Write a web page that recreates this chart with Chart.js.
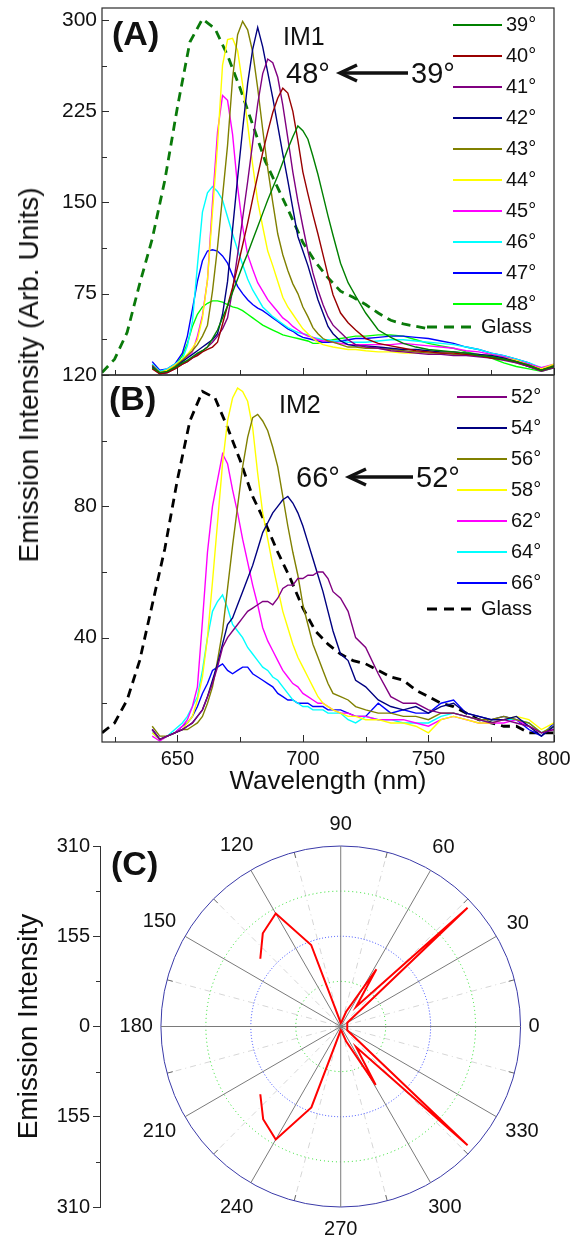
<!DOCTYPE html>
<html>
<head>
<meta charset="utf-8">
<script src="https://cdn.jsdelivr.net/npm/chart.js@4.4.0/dist/chart.umd.min.js"></script>
<style>
  html, body { margin: 0; padding: 0; background: #fff; }
  #page { position: relative; width: 574px; height: 1236px; overflow: hidden; font-family: Arial, "Liberation Sans", sans-serif; }
  #page canvas { position: absolute; left: 0; }
  #ytitle { position: absolute; left: 29px; top: 375px; transform: translate(-50%, -50%) rotate(-90deg);
            font-size: 28px; white-space: nowrap; color: #111; }
</style>
</head>
<body>
<div id="page">
  <canvas id="chart-a" width="574" height="376" style="top:0"></canvas>
  <canvas id="chart-b" width="574" height="440" style="top:360px"></canvas>
  <canvas id="chart-c" width="574" height="436" style="top:800px"></canvas>
  <div id="ytitle">Emission Intensity (Arb. Units)</div>
</div>
<script>
const FONT = 'Arial, "Liberation Sans", sans-serif';

// wavelength grid of the angle spectra (nm)
const lam = [640, 643, 646, 649, 652, 654, 656, 658, 660, 662, 664, 666, 668, 670, 672, 674, 676, 678,
  680, 682, 684, 686, 688, 690, 692, 694, 696, 698, 700, 702, 704, 706, 708, 710, 712, 715, 718, 721,
  725, 730, 735, 740, 745, 750, 755, 760, 765, 770, 775, 780, 785, 790, 795, 800];
// wavelength grid of the glass reference (nm)
const glassLam = [620, 625, 630, 635, 640, 645, 650, 655, 660, 665, 670, 675, 680, 685, 690, 695, 700,
  705, 710, 715, 720, 725, 730, 735, 740, 745, 750, 755, 760, 765, 770, 775, 780, 785, 790, 795, 800];

// (A) IM1
const a39 = [14,10,11,14,18,20,23,26,28,31,38,45,55,65,76,87,98,108,119,130,141,152,162,172,183,194,204,213,209,202,188,173,156,139,123,100,84,73,59,45,39,34,31,29,28,27,26,24,23,21,19,16,12,15];
const a40 = [13,9,10,13,17,19,22,24,27,29,31,35,50,65,80,97,115,133,153,172,191,208,224,236,244,240,225,201,175,157,140,124,107,90,74,59,51,45,38,34,32,30,28,27,26,26,25,24,22,21,19,16,12,15];
const a41 = [14,9,10,13,17,19,22,25,28,31,35,40,46,55,78,107,137,167,199,231,256,268,265,253,230,203,175,151,130,110,92,78,66,56,49,43,37,33,31,30,28,27,26,25,25,24,24,23,22,20,18,15,11,14];
const a42 = [15,9,10,14,19,22,25,28,31,34,37,42,58,85,128,170,210,248,276,294,278,257,236,213,190,168,145,122,110,98,84,70,59,48,42,36,33,32,32,31,30,29,29,28,27,27,26,25,24,22,19,15,12,15];
const a43 = [16,10,11,15,20,24,28,33,40,49,77,113,155,197,252,288,299,292,274,244,210,178,150,124,107,94,83,75,64,56,47,42,38,36,35,33,31,31,30,30,29,28,27,26,26,25,25,24,23,21,18,15,12,16];
const a44 = [15,10,12,16,21,25,30,37,55,86,142,197,263,284,285,275,247,214,181,151,130,110,98,85,72,64,58,52,46,42,38,35,33,32,31,30,29,29,28,27,27,26,26,27,26,26,25,25,24,22,20,16,13,17];
const a45 = [16,10,12,16,20,23,27,40,57,86,150,208,238,234,206,163,130,107,95,84,77,70,65,60,55,52,48,45,42,40,39,37,36,36,35,34,33,33,33,33,33,34,33,32,31,30,28,27,25,23,20,17,14,17];
const a46 = [17,11,13,17,21,32,52,98,142,158,163,159,152,138,124,111,99,87,78,71,64,60,56,53,50,47,45,43,42,41,39,38,37,37,36,36,35,35,35,36,37,37,36,35,34,33,31,29,26,24,21,18,14,16];
const a47 = [19,12,13,17,26,40,62,85,102,110,111,110,106,100,90,81,75,70,66,63,61,58,55,52,49,46,44,41,39,38,37,36,35,35,35,36,37,38,38,39,40,40,39,38,36,34,31,29,26,24,21,18,13,16];
const a48 = [16,11,12,15,24,34,48,58,64,67,69,69,68,66,64,63,61,58,55,52,49,47,45,43,41,40,39,38,37,36,34,34,35,36,37,38,39,40,40,41,41,40,37,34,32,30,27,25,22,18,15,13,11,14];
const aGlass = [10,21,43,83,120,168,228,282,301,293,271,244,214,184,162,140,117,101,88,77,72,66,59,53,50,48,46];

// (B) IM2
const b52 = [12,9,10,11,12,13,14,16,18,22,26,31,37,40,42,44,46,48,49,50,51,51,50,52,55,56,56,58,58,59,59,60,60,58,54,52,48,40,37,29,22,20,20,18,17,17,16,15,14,15,14,13,11,12];
const b54 = [12,9,10,11,12,13,14,16,18,22,27,32,38,44,46,50,54,58,62,67,72,75,78,80,82,83,81,78,74,69,64,59,54,48,42,35,33,27,25,21,19,18,19,17,19,20,17,16,15,15,16,13,10,13];
const b56 = [13,10,10,11,12,12,13,14,16,20,25,33,42,55,68,80,92,101,107,108,106,103,98,92,83,74,66,59,50,44,38,34,30,26,23,22,21,19,18,17,17,16,16,15,17,17,16,15,15,16,15,14,11,13];
const b58 = [11,9,10,11,12,14,16,21,28,40,57,75,93,106,113,116,115,112,104,90,78,70,62,55,48,43,38,34,31,28,25,22,20,19,18,17,16,16,15,15,14,14,13,11,15,16,15,14,14,15,16,15,12,14];
const b62 = [10,8.5,10,11,13,15,19,25,45,66,80,88,96,93,85,78,70,63,56,50,43,39,36,33,30,28,26,25,23,22,21,20,20,19,18,17,17,16,16,15,15,15,14,13,15,16,15,14,14,14,15,13,11,12];
const b64 = [11,9,10,12,14,16,19,22,30,40,48,51,53,49,44,42,40,37,35,33,31,30,28,27,25,23,21,20,19,19,18,18,18,17,17,17,15,14,16,15,15,14,14,14,16,17,16,15,14,15,15,14,11,13];
const b66 = [12,9,10,11,13,14,16,19,23,26,30,31,32,30,29,30,31,31,29,28,27,26,25,23,22,21,21,20,20,20,19,19,19,18,18,18,17,16,16,20,17,18,17,17,20,21,17,16,15,16,15,12,10,14];
const bGlass = [11,14,21,33,50,67,88,106,115,113,104,94,83,75,66,58,49,42,38,35,33,32,30,28,27,24,22,20,19,17,15,14,13,13,11,11,11];

const anglesA = ['39°', '40°', '41°', '42°', '43°', '44°', '45°', '46°', '47°', '48°'];
const seriesA = [a39, a40, a41, a42, a43, a44, a45, a46, a47, a48];
const colorsA = ['#008000', '#990000', '#800080', '#000080', '#808000', '#ffff00', '#ff00ff', '#00ffff', '#0000ff', '#00ff00'];

const anglesB = ['52°', '54°', '56°', '58°', '62°', '64°', '66°'];
const seriesB = [b52, b54, b56, b58, b62, b64, b66];
const colorsB = ['#800080', '#000080', '#808000', '#ffff00', '#ff00ff', '#00ffff', '#0000ff'];

// axis ticks
const xTicks = [650, 700, 750, 800];
const xMinor = [625, 675, 725, 775];
const yTicksA = [75, 150, 225, 300];
const yMinorA = [37.5, 112.5, 187.5, 262.5];
const yTicksB = [40, 80, 120];
const yMinorB = [20, 60, 100];

// (C) polar plot: angle (deg) and emission intensity
const polarDeg = [140, 130, 120, 110, 100, 90, 80, 70, 58, 52, 43, 30, 20, 10, 0, 350, 340, 330, 317, 307, 301, 290, 280, 270, 260, 250, 240, 230, 220];
const polarR   = [181, 209, 224, 149, 12, 6, 8, 27, 116, 43, 299, 13, 12, 11, 12, 11, 12, 13, 299, 44, 117, 27, 8, 6, 12, 148, 224, 208, 181];
const polarTicks = [-310, -155, 0, 155, 310];
const polarMinor = [-232.5, -77.5, 77.5, 232.5];
const polarRings = [77.5, 155, 232.5, 310];
const polarSpokes = [0, 30, 60, 90, 120, 150, 180, 210, 240, 270, 300, 330];

Chart.defaults.font.family = FONT;
Chart.defaults.color = '#111';

/* frame round the plot with inward ticks */
function framePlugin(yMajor, yMinor) {
    return {
        id: 'frame',
        afterDatasetsDraw(chart) {
            const { ctx, chartArea: a, scales: { x, y } } = chart;
            ctx.save();
            ctx.strokeStyle = '#2b2b2b';
            ctx.lineWidth = 1.2;
            ctx.strokeRect(a.left, a.top, a.right - a.left, a.bottom - a.top);
            ctx.lineWidth = 1;
            const tx = (v, len) => {
                const p = Math.round(x.getPixelForValue(v)) + 0.5;
                ctx.beginPath(); ctx.moveTo(p, a.bottom); ctx.lineTo(p, a.bottom - len); ctx.stroke();
            };
            const ty = (v, len) => {
                const p = Math.round(y.getPixelForValue(v)) + 0.5;
                ctx.beginPath(); ctx.moveTo(a.left, p); ctx.lineTo(a.left + len, p); ctx.stroke();
            };
            xTicks.forEach(v => tx(v, 7));
            xMinor.forEach(v => tx(v, 5));
            yMajor.forEach(v => ty(v, 7));
            yMinor.forEach(v => ty(v, 5));
            ctx.restore();
        }
    };
}

/* legend column inside the plot */
function legendPlugin(o) {
    return {
        id: 'panelLegend',
        afterDraw(chart) {
            const ctx = chart.ctx;
            ctx.save();
            ctx.font = '20px ' + FONT;
            ctx.textBaseline = 'middle';
            ctx.fillStyle = '#111';
            chart.data.datasets.forEach((ds, i) => {
                const glass = ds.borderDash && ds.borderDash.length;
                const y = glass ? o.gy : o.y0 + i * o.dy;
                const x0 = glass ? o.gx0 : o.x0;
                const x1 = glass ? o.gx1 : o.x1;
                ctx.strokeStyle = ds.borderColor;
                ctx.lineWidth = glass ? 3 : 2;
                ctx.setLineDash(glass ? [10, 7] : []);
                ctx.beginPath(); ctx.moveTo(x0, y); ctx.lineTo(x1, y); ctx.stroke();
                ctx.fillText(ds.label, x1 + 4, y);
            });
            ctx.restore();
        }
    };
}

/* panel tags, sample names and the angle arrow */
function notesPlugin(items, arrow) {
    return {
        id: 'notes',
        afterDraw(chart) {
            const ctx = chart.ctx;
            ctx.save();
            ctx.fillStyle = '#111';
            ctx.textBaseline = 'alphabetic';
            items.forEach(it => {
                ctx.font = it.font + ' ' + FONT;
                ctx.fillText(it.t, it.x, it.y);
            });
            if (arrow) {
                ctx.strokeStyle = '#111';
                ctx.lineWidth = 3.5;
                ctx.beginPath(); ctx.moveTo(arrow.x0 + 3, arrow.y); ctx.lineTo(arrow.x1, arrow.y); ctx.stroke();
                ctx.beginPath();
                ctx.moveTo(arrow.x0 + 18, arrow.y - 8);
                ctx.lineTo(arrow.x0 + 1, arrow.y);
                ctx.lineTo(arrow.x0 + 18, arrow.y + 8);
                ctx.stroke();
            }
            ctx.restore();
        }
    };
}

function spectraDatasets(names, series, colors, glassName, glass, glassColor) {
    const sets = series.map((s, k) => ({
        label: names[k],
        data: s.map((v, i) => ({ x: lam[i], y: v })),
        borderColor: colors[k],
        borderWidth: 1.4,
        pointRadius: 0,
        tension: 0
    }));
    sets.push({
        label: glassName,
        data: glass.map((v, i) => ({ x: glassLam[i], y: v })),
        borderColor: glassColor,
        borderWidth: 2.8,
        borderDash: [9, 6],
        pointRadius: 0,
        tension: 0
    });
    return sets;
}

function yAxis(min, max, ticks) {
    return {
        type: 'linear', min, max,
        afterFit: s => { s.width = 102; s.paddingTop = 0; s.paddingBottom = 0; },
        afterBuildTicks: s => { s.ticks = ticks.map(v => ({ value: v })); },
        grid: { display: false, drawTicks: false },
        border: { display: false },
        ticks: { padding: 5, color: '#111', font: { size: 21 } }
    };
}

/* (A) */
new Chart(document.getElementById('chart-a'), {
    type: 'line',
    data: { datasets: spectraDatasets(anglesA, seriesA, colorsA, 'Glass', aGlass, '#0a7a0a') },
    options: {
        responsive: false, animation: false, devicePixelRatio: 1,
        layout: { padding: { top: 8, right: 20, bottom: 1, left: 0 } },
        plugins: { legend: { display: false }, tooltip: { enabled: false } },
        scales: {
            x: { type: 'linear', min: 620, max: 800, display: false },
            y: yAxis(8, 310, yTicksA)
        }
    },
    plugins: [
        framePlugin(yTicksA, yMinorA),
        legendPlugin({ x0: 453, x1: 502, y0: 25, dy: 31, gx0: 427, gx1: 477, gy: 327 }),
        notesPlugin([
            { t: '(A)', x: 112, y: 45, font: 'bold 34px' },
            { t: 'IM1', x: 283, y: 45, font: '25px' },
            { t: '48°', x: 286, y: 83, font: '29px' },
            { t: '39°', x: 411, y: 83, font: '29px' }
        ], { x0: 339, x1: 408, y: 73 })
    ]
});

/* (B) */
new Chart(document.getElementById('chart-b'), {
    type: 'line',
    data: { datasets: spectraDatasets(anglesB, seriesB, colorsB, 'Glass', bGlass, '#000000') },
    options: {
        responsive: false, animation: false, devicePixelRatio: 1,
        layout: { padding: { top: 15, right: 20, bottom: 0, left: 0 } },
        plugins: { legend: { display: false }, tooltip: { enabled: false } },
        scales: {
            x: {
                type: 'linear', min: 620, max: 800,
                afterFit: s => { s.height = 58; s.paddingLeft = 0; s.paddingRight = 0; },
                afterBuildTicks: s => { s.ticks = xTicks.map(v => ({ value: v })); },
                grid: { display: false, drawTicks: false },
                border: { display: false },
                ticks: { padding: 5, color: '#111', font: { size: 20 }, maxRotation: 0 },
                title: { display: true, text: 'Wavelength (nm)', color: '#111', font: { size: 26 }, padding: { top: 0, bottom: 3 } }
            },
            y: yAxis(8.2, 120, yTicksB)
        }
    },
    plugins: [
        framePlugin(yTicksB, yMinorB),
        legendPlugin({ x0: 457, x1: 507, y0: 37, dy: 31, gx0: 427, gx1: 477, gy: 249 }),
        notesPlugin([
            { t: '(B)', x: 109, y: 50, font: 'bold 34px' },
            { t: 'IM2', x: 279, y: 53, font: '25px' },
            { t: '66°', x: 296, y: 127, font: '29px' },
            { t: '52°', x: 416, y: 127, font: '29px' }
        ], { x0: 348, x1: 413, y: 117 })
    ]
});

/* (C) polar grid drawn on the x/y scales */
const polarGrid = {
    id: 'polarGrid',
    beforeDatasetsDraw(chart) {
        const { ctx, scales: { x, y } } = chart;
        const cx = x.getPixelForValue(0), cy = y.getPixelForValue(0);
        const kx = x.getPixelForValue(1) - cx, ky = cy - y.getPixelForValue(1);
        const R = polarRings[polarRings.length - 1];
        const rad = d => d * Math.PI / 180;
        ctx.save();

        // faint dash-dot spokes and rim ticks between the labelled angles
        polarSpokes.forEach(a => {
            const t = rad(a + 15);
            ctx.strokeStyle = '#d6d6d6'; ctx.lineWidth = 1; ctx.setLineDash([6, 4, 1, 4]);
            ctx.beginPath(); ctx.moveTo(cx, cy);
            ctx.lineTo(cx + R * kx * Math.cos(t), cy - R * ky * Math.sin(t)); ctx.stroke();
            ctx.setLineDash([]); ctx.strokeStyle = '#666';
            ctx.beginPath();
            ctx.moveTo(cx + (R * kx - 6) * Math.cos(t), cy - (R * ky - 6) * Math.sin(t));
            ctx.lineTo(cx + R * kx * Math.cos(t), cy - R * ky * Math.sin(t)); ctx.stroke();
        });

        // rings
        const ringStyle = [
            { c: '#22dd22', d: [1, 3] }, { c: '#3344ff', d: [1, 2] },
            { c: '#22dd22', d: [1, 3] }, { c: '#3a3aa8', d: [] }
        ];
        polarRings.forEach((r, i) => {
            ctx.strokeStyle = ringStyle[i].c; ctx.setLineDash(ringStyle[i].d); ctx.lineWidth = 1;
            ctx.beginPath(); ctx.ellipse(cx, cy, r * kx, r * ky, 0, 0, Math.PI * 2); ctx.stroke();
        });

        // main spokes and angle labels
        ctx.setLineDash([]);
        ctx.font = '20px ' + FONT;
        ctx.textAlign = 'center'; ctx.textBaseline = 'middle'; ctx.fillStyle = '#111';
        polarSpokes.forEach(a => {
            const t = rad(a), c = Math.cos(t), s = Math.sin(t);
            ctx.strokeStyle = '#7a7a7a'; ctx.lineWidth = 1;
            ctx.beginPath(); ctx.moveTo(cx, cy); ctx.lineTo(cx + R * kx * c, cy - R * ky * s); ctx.stroke();
            const label = String(a);
            const w = ctx.measureText(label).width;
            const rl = 8 + (w / 2) * Math.abs(c) + 14 * Math.abs(s);
            ctx.fillText(label, cx + (R * kx + rl) * c, cy - (R * ky + rl) * s);
        });

        // minor ticks on the intensity axis
        const a = chart.chartArea;
        ctx.strokeStyle = '#333';
        polarMinor.forEach(v => {
            const p = Math.round(y.getPixelForValue(v)) + 0.5;
            ctx.beginPath(); ctx.moveTo(a.left - 4, p); ctx.lineTo(a.left, p); ctx.stroke();
        });
        ctx.restore();
    }
};

new Chart(document.getElementById('chart-c'), {
    type: 'scatter',
    data: {
        datasets: [{
            label: 'Emission Intensity',
            data: polarDeg.map((d, i) => ({
                x: polarR[i] * Math.cos(d * Math.PI / 180),
                y: polarR[i] * Math.sin(d * Math.PI / 180)
            })),
            showLine: true,
            borderColor: '#ff0000',
            borderWidth: 2,
            pointRadius: 0,
            tension: 0
        }]
    },
    options: {
        responsive: false, animation: false, devicePixelRatio: 1,
        layout: { padding: { top: 46, right: 14, bottom: 29, left: 0 } },
        plugins: { legend: { display: false }, tooltip: { enabled: false } },
        scales: {
            x: { type: 'linear', min: -415, max: 378, display: false },
            y: {
                type: 'linear', min: -310, max: 310,
                afterFit: s => { s.width = 100; s.paddingTop = 0; s.paddingBottom = 0; },
                afterBuildTicks: s => { s.ticks = polarTicks.map(v => ({ value: v })); },
                grid: { display: true, drawOnChartArea: false, drawTicks: true, tickLength: 7, color: '#333' },
                border: { display: true, color: '#333', width: 1 },
                ticks: { padding: 3, color: '#111', font: { size: 20 }, callback: v => Math.abs(v) },
                title: { display: true, text: 'Emission Intensity', color: '#111', font: { size: 28 }, padding: { top: 12, bottom: 0 } }
            }
        }
    },
    plugins: [
        polarGrid,
        notesPlugin([{ t: '(C)', x: 111, y: 75, font: 'bold 34px' }])
    ]
});
</script>
</body>
</html>
